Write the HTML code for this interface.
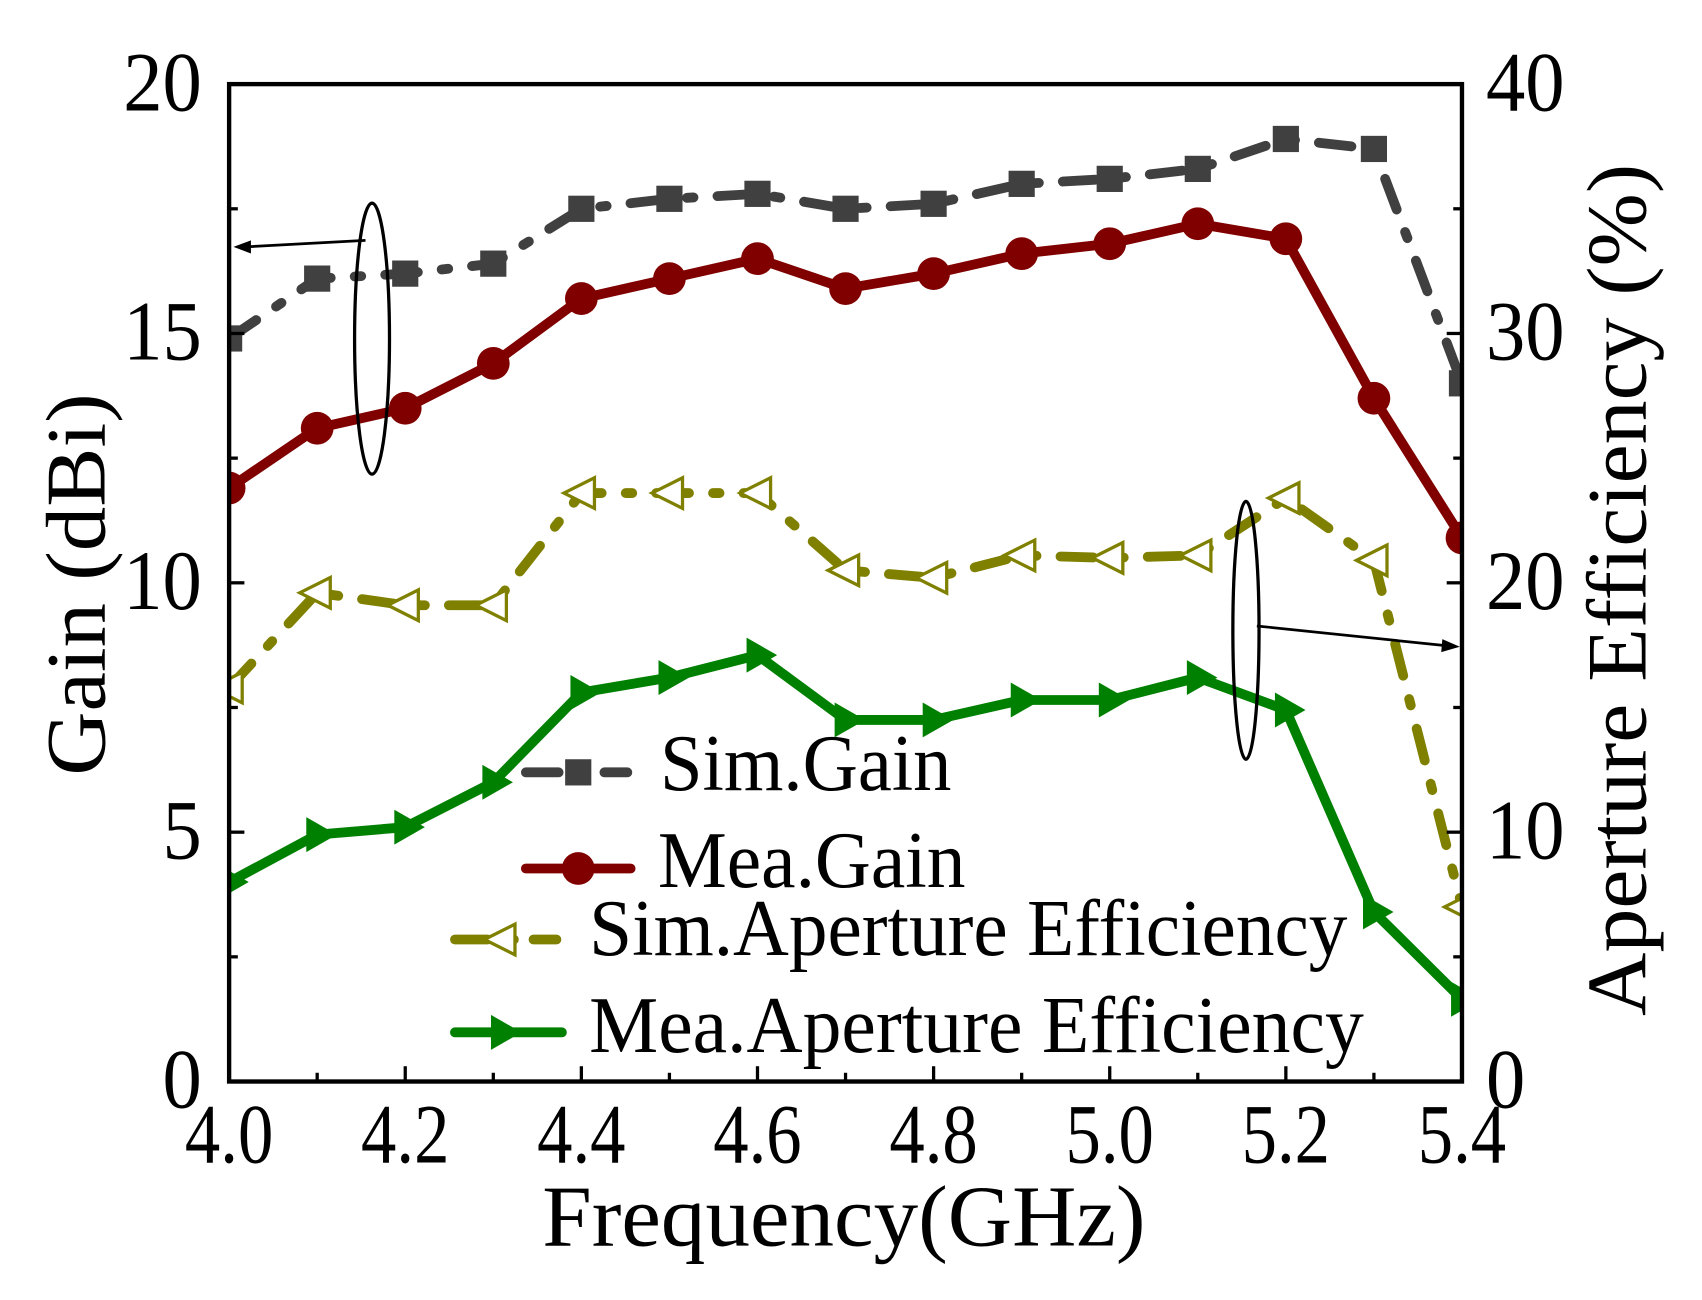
<!DOCTYPE html>
<html><head><meta charset="utf-8"><style>html,body{margin:0;padding:0;background:#fff}svg{display:block}</style></head>
<body>
<svg id="chart" width="1702" height="1300" viewBox="0 0 1560 1190" preserveAspectRatio="none" xmlns="http://www.w3.org/2000/svg" font-family="'Liberation Serif', serif">
<defs><clipPath id="pc"><rect x="210" y="77" width="1130" height="913"/></clipPath></defs>
<g id="plot" clip-path="url(#pc)"></g>
<g id="axes"></g>
<text x="497" y="1140" font-size="80" textLength="553" lengthAdjust="spacingAndGlyphs">Frequency(GHz)</text>
<text transform="translate(96,710) rotate(-90)" font-size="78" textLength="350" lengthAdjust="spacingAndGlyphs">Gain (dBi)</text>
<text transform="translate(1508,930) rotate(-90)" font-size="78" textLength="780" lengthAdjust="spacingAndGlyphs">Aperture Efficiency (%)</text>
<g>
<ellipse cx="341" cy="310" rx="16" ry="124" fill="none" stroke="#000" stroke-width="3"/>
<line x1="335" y1="220" x2="225" y2="226" stroke="#000" stroke-width="2.5"/>
<polygon points="214,226 230,220 230,232" fill="#000"/>
</g>
<g>
<ellipse cx="1142" cy="577" rx="12" ry="118" fill="none" stroke="#000" stroke-width="3"/>
<line x1="1152" y1="573" x2="1325" y2="591" stroke="#000" stroke-width="2.5"/>
<polygon points="1338,592 1322,585 1321,597" fill="#000"/>
</g>
<g>
<g>
<line x1="482" y1="707" x2="575" y2="707" stroke="#404040" stroke-width="9" stroke-dasharray="30 18 6 18" stroke-linecap="round"/>
<rect x="518" y="695" width="24" height="24" fill="#404040"/>
<text x="605" y="723" font-size="74" textLength="267" lengthAdjust="spacingAndGlyphs">Sim.Gain</text></g>
<g>
<line x1="482" y1="795" x2="578" y2="795" stroke="#800000" stroke-width="9" stroke-linecap="round"/>
<circle cx="530" cy="795" r="15" fill="#800000"/>
<text x="603" y="812" font-size="74" textLength="282" lengthAdjust="spacingAndGlyphs">Mea.Gain</text></g>
<g>
<line x1="417" y1="860" x2="510" y2="860" stroke="#808000" stroke-width="9" stroke-dasharray="30 18 6 18" stroke-linecap="round"/>
<polygon points="444,860 472,846 472,874" fill="#fff" stroke="#808000" stroke-width="3"/>
<text x="540" y="874" font-size="74" textLength="695" lengthAdjust="spacingAndGlyphs">Sim.Aperture Efficiency</text></g>
<g>
<line x1="417" y1="945" x2="515" y2="945" stroke="#008000" stroke-width="9" stroke-linecap="round"/>
<polygon points="478,945 450,929 450,961" fill="#008000"/>
<text x="540" y="963" font-size="74" textLength="710" lengthAdjust="spacingAndGlyphs">Mea.Aperture Efficiency</text></g>
</g>
</svg>
<script>
const freqs=[4.0,4.1,4.2,4.3,4.4,4.5,4.6,4.7,4.8,4.9,5.0,5.1,5.2,5.3,5.4];
const simGain=[14.9,16.1,16.2,16.4,17.5,17.7,17.8,17.5,17.6,18.0,18.1,18.3,18.9,18.7,14.0];
const meaGain=[11.9,13.1,13.5,14.4,15.7,16.1,16.5,15.9,16.2,16.6,16.8,17.2,16.9,13.7,10.9];
const simEff=[15.8,19.6,19.1,19.1,23.6,23.6,23.6,20.5,20.2,21.1,21.0,21.1,23.4,20.9,7.0];
const meaEff=[8.0,9.9,10.2,12.0,15.6,16.2,17.1,14.5,14.5,15.3,15.3,16.2,14.9,6.8,3.3];
const xTicks=[4.0,4.2,4.4,4.6,4.8,5.0,5.2,5.4];
const yLeftTicks=[0,5,10,15,20];
const yRightTicks=[0,10,20,30,40];
const L=210,R=1340,T=77,B=990;
const X=v=>L+(v-4.0)/1.4*(R-L);
const YL=v=>B-v/20*(B-T);
const YR=v=>B-v/40*(B-T);
const NS='http://www.w3.org/2000/svg';
function mk(tag,attrs,parent){const e=document.createElementNS(NS,tag);for(const k in attrs)e.setAttribute(k,attrs[k]);parent.appendChild(e);return e;}
const plot=document.getElementById('plot'),axes=document.getElementById('axes');
function marker(type,x,y,color,g){
  if(type==='sq')return mk('rect',{x:x-12,y:y-12,width:24,height:24,fill:color},g);
  if(type==='ci')return mk('circle',{cx:x,cy:y,r:15,fill:color},g);
  if(type==='lt')return mk('polygon',{points:`${x-16},${y} ${x+12},${y-14} ${x+12},${y+14}`,fill:'#fff',stroke:color,'stroke-width':3},g);
  return mk('polygon',{points:`${x+18},${y} ${x-10},${y-16} ${x-10},${y+16}`,fill:color},g);
}
const series=[
 {name:'sim-gain',vals:simGain,Y:YL,color:'#404040',dash:'30 22 6 22',m:'sq'},
 {name:'mea-gain',vals:meaGain,Y:YL,color:'#800000',dash:'',m:'ci'},
 {name:'sim-efficiency',vals:simEff,Y:YR,color:'#808000',dash:'30 22 6 22',m:'lt'},
 {name:'mea-efficiency',vals:meaEff,Y:YR,color:'#008000',dash:'',m:'rt'}
];
series.forEach(s=>{
  const g=mk('g',{},plot);
  
  
  const pts=s.vals.map((v,i)=>X(freqs[i])+','+s.Y(v)).join(' ');
  const pl=mk('polyline',{points:pts,fill:'none',stroke:s.color,'stroke-width':9,'stroke-linecap':'round','stroke-linejoin':'round','stroke-dasharray':s.dash},g);
  
  
  s.vals.forEach((v,i)=>{const m=marker(s.m,X(freqs[i]),s.Y(v),s.color,g);
    
    });
});
const fr=mk('rect',{x:L,y:T,width:R-L,height:B-T,fill:'none',stroke:'#000','stroke-width':4},axes);


for(let v=4.0;v<=5.401;v+=0.1){const x=X(v);const major=Math.round(v*10)%2===0;mk('line',{x1:x,y1:B,x2:x,y2:B-(major?14:8),stroke:'#000','stroke-width':3},axes);}
xTicks.forEach(v=>{const t=mk('text',{x:X(v),y:B+74,'font-size':78,'text-anchor':'middle',textLength:81,lengthAdjust:'spacingAndGlyphs'},axes);t.textContent=v.toFixed(1);
  
  });
for(let v=0;v<=20;v+=2.5){const y=YL(v);const major=v%5===0;mk('line',{x1:L,y1:y,x2:L+(major?14:8),y2:y,stroke:'#000','stroke-width':3},axes);mk('line',{x1:R,y1:y,x2:R-(major?14:8),y2:y,stroke:'#000','stroke-width':3},axes);}
yLeftTicks.forEach(v=>{const w=String(v).length*36;const t=mk('text',{x:185-w,y:YL(v)+24,'font-size':78,textLength:w,lengthAdjust:'spacingAndGlyphs'},axes);t.textContent=v;
  
  });
yRightTicks.forEach(v=>{const w=String(v).length*36;const t=mk('text',{x:1362,y:YR(v)+24,'font-size':78,textLength:w,lengthAdjust:'spacingAndGlyphs'},axes);t.textContent=v;
  
  });
</script>
</body></html>
